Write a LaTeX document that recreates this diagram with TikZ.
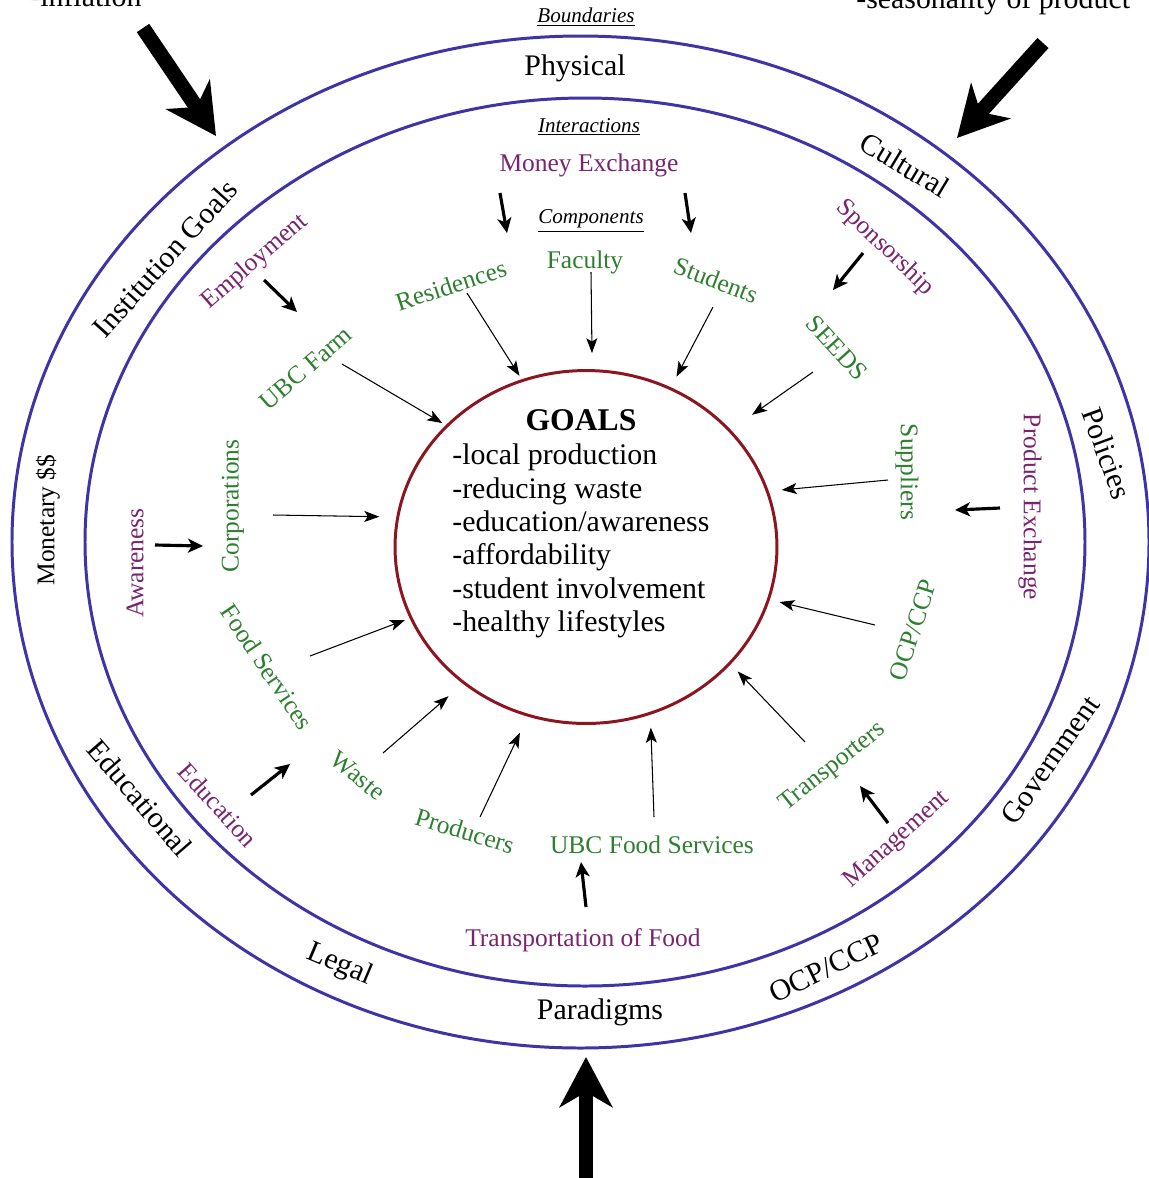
\documentclass[tikz,border=0pt]{standalone}
\usepackage{fontspec}
\setmainfont{Liberation Serif}
\usetikzlibrary{arrows.meta,shapes.geometric}
\definecolor{ringblue}{RGB}{62,52,165}
\definecolor{goalred}{RGB}{140,22,32}
\definecolor{ipurple}{RGB}{122,36,112}
\definecolor{cgreen}{RGB}{46,128,48}
\tikzset{
  ring/.style={draw=ringblue, line width=1.7pt},
  ringlbl/.style={font=\fontsize{17}{20}\selectfont, inner sep=0pt},
  smallring/.style={font=\fontsize{14.5}{17}\selectfont, inner sep=0pt},
  hdr/.style={font=\fontsize{12}{14}\selectfont\itshape, inner sep=0pt},
  interlbl/.style={text=ipurple, font=\fontsize{14.5}{16}\selectfont, inner sep=0pt},
  complbl/.style={text=cgreen, font=\fontsize{14.5}{16}\selectfont, inner sep=0pt},
  outlbl/.style={font=\fontsize{17}{20}\selectfont, inner sep=0pt, anchor=base west},
  bigarrow/.style={line width=8.5pt, -{Stealth[length=1.0cm, width=1.05cm, inset=0.3cm]}},
  midarrow/.style={line width=1.8pt, -{Stealth[length=0.3cm, width=0.28cm, inset=0.08cm]}},
  thinarrow/.style={line width=0.6pt, -{Stealth[length=0.3cm, width=0.22cm, inset=0.07cm]}},
  goalbox/.style={ellipse, draw=goalred, line width=1.7pt, inner sep=0pt,
    minimum width=7.64cm, minimum height=7.06cm},
}
\begin{document}
\begin{tikzpicture}[x=0.02cm, y=-0.02cm]
\useasboundingbox (0,0) rectangle (1149,1178);
\clip (0,0) rectangle (1149,1178);
\fill[white] (0,0) rectangle (1149,1178);

% rings
\draw[ring] (580.5,542) ellipse [x radius=568.5, y radius=506];
\draw[ring] (585,542) ellipse [x radius=500, y radius=444];

% goal circle
\node[goalbox] (goal) at (586,547) {};
\node[font=\fontsize{18}{20}\selectfont\bfseries, inner sep=0pt, anchor=base] (goalhead) at (581,430) {GOALS};
\node[font=\fontsize{17}{19.05}\selectfont, align=left, inner sep=0pt, anchor=north west] (goallist) at (452,443.5)
  {-local production\\-reducing waste\\-education/awareness\\-affordability\\-student involvement\\-healthy lifestyles};

% outside texts
\node[outlbl] (infl) at (30,6) {-inflation};
\node[outlbl] (seas) at (856,8) {-seasonality of product};

% headers
\node[hdr] (hbound) at (586,17) {\underline{Boundaries}};
\node[hdr] (hinter) at (589,127) {\underline{Interactions}};
\node[hdr] (hcomp) at (591,221) {\underline{Components}};

% ring labels
\node[ringlbl] (physical) at (575,68) {Physical};
\node[ringlbl, rotate=-31] (cultural) at (905,165) {Cultural};
\node[ringlbl, rotate=-70] (policies) at (1107,453) {Policies};
\node[ringlbl, rotate=55] (government) at (1050,760) {Government};
\node[ringlbl, rotate=26] (ocpout) at (826,968) {OCP/CCP};
\node[ringlbl] (paradigms) at (600,1012) {Paradigms};
\node[ringlbl, rotate=-23] (legal) at (340,965) {Legal};
\node[ringlbl, rotate=-49] (educational) at (140,798) {Educational};
\node[smallring, rotate=90] (monetary) at (48,520) {Monetary \$\$};
\node[ringlbl, rotate=48] (instgoals) at (165,258) {Institution Goals};

% interactions (purple)
\node[interlbl] (money) at (589,165) {Money Exchange};
\node[interlbl, rotate=-44] (sponsor) at (885,248) {Sponsorship};
\node[interlbl, rotate=41] (employ) at (255,262) {Employment};
\node[interlbl, rotate=90] (aware) at (135,563) {Awareness};
\node[interlbl, rotate=-90] (prodex) at (1030,507) {Product Exchange};
\node[interlbl, rotate=-48] (educ) at (218,805) {Education};
\node[interlbl] (transfood) at (583,940) {Transportation of Food};
\node[interlbl, rotate=42] (manage) at (897,840) {Management};

% components (green)
\node[complbl] (faculty) at (585,262) {Faculty};
\node[complbl, rotate=18] (resid) at (451,285) {Residences};
\node[complbl, rotate=-21] (students) at (716,280) {Students};
\node[complbl, rotate=-48] (seeds) at (837,348) {SEEDS};
\node[complbl, rotate=41] (ubcfarm) at (306,368) {UBC Farm};
\node[complbl, rotate=90] (corp) at (233,506) {Corporations};
\node[complbl, rotate=-90] (suppl) at (907,472) {Suppliers};
\node[complbl, rotate=-56] (foodserv) at (267,667) {Food Services};
\node[complbl, rotate=72] (ocpin) at (913,630) {OCP/CCP};
\node[complbl, rotate=-39] (waste) at (358,776) {Waste};
\node[complbl, rotate=-17] (producers) at (465,831) {Producers};
\node[complbl] (ubcfs) at (652,845) {UBC Food Services};
\node[complbl, rotate=38.5] (transp) at (833,767) {Transporters};

% big arrows
\coordinate (tlA) at (143,28);
\coordinate (tlB) at (216,136);
\coordinate (trA) at (1043,43);
\coordinate (trB) at (957,138);
\coordinate (btA) at (586,1190);
\coordinate (btB) at (586,1057);
\draw[bigarrow] (tlA) -- (tlB);
\draw[bigarrow] (trA) -- (trB);
\draw[bigarrow, line width=7.5pt] (btA) -- (btB);

% interaction arrows
\coordinate (empA) at (264,280);  \coordinate (empB) at (297,312);
\coordinate (mlA) at (500,193);   \coordinate (mlB) at (507,233);
\coordinate (mrA) at (685,193);   \coordinate (mrB) at (691,233);
\coordinate (spA) at (863,253);   \coordinate (spB) at (833,290);
\coordinate (peA) at (1000,508);  \coordinate (peB) at (955,510);
\coordinate (awA) at (155,545);   \coordinate (awB) at (203,546);
\coordinate (edA) at (251,795);   \coordinate (edB) at (290,764);
\coordinate (tfA) at (586,907);   \coordinate (tfB) at (581,862);
\coordinate (mgA) at (888,823);   \coordinate (mgB) at (860,786);
\draw[midarrow] (empA) -- (empB);
\draw[midarrow] (mlA) -- (mlB);
\draw[midarrow] (mrA) -- (mrB);
\draw[midarrow] (spA) -- (spB);
\draw[midarrow] (peA) -- (peB);
\draw[midarrow] (awA) -- (awB);
\draw[midarrow] (edA) -- (edB);
\draw[midarrow] (tfA) -- (tfB);
\draw[midarrow] (mgA) -- (mgB);

% component arrows to goals
\coordinate (sFarm) at (342,364);
\coordinate (sRes) at (467,293);
\coordinate (sFac) at (591,272);
\coordinate (sStu) at (713,307);
\coordinate (sSeeds) at (813,372);
\coordinate (sSup) at (888,480);
\coordinate (sOcp) at (875,625);
\coordinate (sTra) at (805,742);
\coordinate (sUfs) at (654,817);
\coordinate (sPro) at (480,817);
\coordinate (sWas) at (383,753);
\coordinate (sFoo) at (310,656);
\coordinate (sCor) at (273,515);
\draw[thinarrow, shorten >=0.08cm] (sFarm) -- (goal.139.5);
\draw[thinarrow, shorten >=0.08cm] (sRes) -- (goal.111.3);
\draw[thinarrow, shorten >=0.32cm] (sFac) -- (goal.88.5);
\draw[thinarrow, shorten >=0.24cm] (sStu) -- (goal.62.2);
\draw[thinarrow, shorten >=0.52cm] (sSeeds) -- (goal.39.6);
\draw[thinarrow, shorten >=0.26cm] (sSup) -- (goal.17.2);
\draw[thinarrow, shorten >=0.2cm] (sOcp) -- (goal.-16);
\draw[thinarrow, shorten >=0.2cm] (sTra) -- (goal.-39.2);
\draw[thinarrow, shorten >=0.26cm] (sUfs) -- (goal.-69);
\draw[thinarrow, shorten >=0.36cm] (sPro) -- (goal.-109.1);
\draw[thinarrow, shorten >=0.38cm] (sWas) -- (goal.-132.6);
\draw[thinarrow, shorten >=0.1cm] (sFoo) -- (goal.-158.9);
\draw[thinarrow, shorten >=0.34cm] (sCor) -- (goal.171.7);
\end{tikzpicture}
\end{document}
